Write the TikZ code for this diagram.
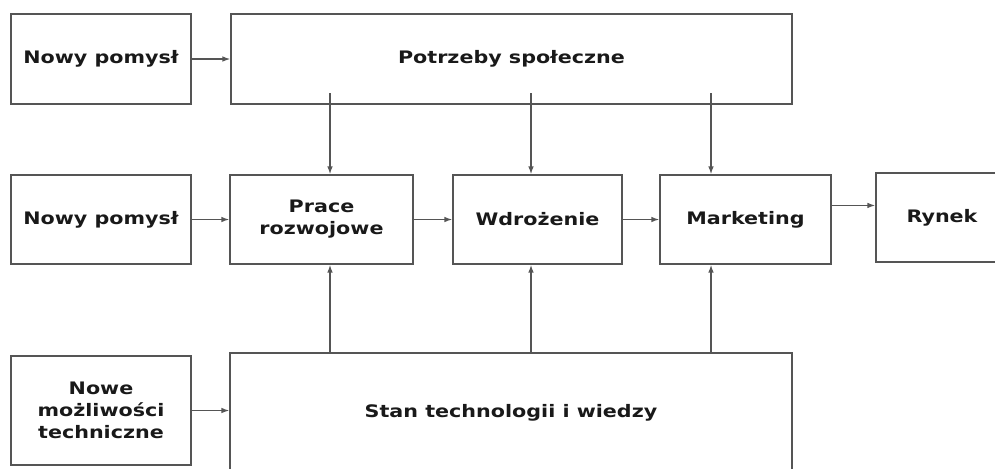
\documentclass[tikz,border=0pt]{standalone}
\usepackage{fontspec}
\setmainfont{DejaVu Sans}[FakeStretch=1.2]
\usetikzlibrary{arrows.meta}
\definecolor{linegray}{HTML}{555555}

\begin{document}
\begin{tikzpicture}[x=0.02cm, y=-0.02cm,
  box/.style={draw=linegray, line width=0.8pt, inner sep=0pt, align=center,
    font=\bfseries\fontsize{9.8}{12.5}\selectfont, text=black!90},
  arr/.style={draw=linegray, line width=0.8pt, -{Latex[length=4.5pt,width=3.2pt]}}]

\useasboundingbox (0,0) rectangle (995,468);
\clip (0,0) rectangle (995,468);

\node[box, minimum width=3.6cm, minimum height=1.8cm] (pomysla) at (101,59) {Nowy pomysł};
\node[box, minimum width=11.22cm, minimum height=1.8cm] (potrzeby) at (511.5,59) {Potrzeby społeczne};

\node[box, minimum width=3.6cm, minimum height=1.78cm] (pomyslb) at (101,219.5) {Nowy pomysł};
\node[box, minimum width=3.66cm, minimum height=1.78cm] (prace) at (321.5,219.5) {Prace\\rozwojowe};
\node[box, minimum width=3.38cm, minimum height=1.78cm] (wdrozenie) at (537.5,219.5) {Wdrożenie};
\node[box, minimum width=3.42cm, minimum height=1.78cm] (marketing) at (745.5,219.5) {Marketing};
\node[box, minimum width=2.64cm, minimum height=1.78cm] (rynek) at (942,217.5) {Rynek};

\node[box, minimum width=3.6cm, minimum height=2.18cm] (nowe) at (101,410.5) {Nowe\\możliwości\\techniczne};
\node[box, minimum width=11.24cm, minimum height=2.4cm] (stan) at (511,413) {Stan technologii i wiedzy};

\coordinate (ka) at (330,93);
\coordinate (kb) at (531,93);
\coordinate (kc) at (711,93);

\draw[arr] (pomysla.east) -- (potrzeby.west);
\draw[arr] (pomyslb.east) -- (prace.west);
\draw[arr] (prace.east) -- (wdrozenie.west);
\draw[arr] (wdrozenie.east) -- (marketing.west);
\draw[arr] ([yshift=8pt]marketing.east) -- ([yshift=8pt]marketing.east -| rynek.west);
\draw[arr] (nowe.east) -- (nowe.east -| stan.west);

\draw[arr] (ka) -- (ka |- prace.north);
\draw[arr] (kb) -- (kb |- wdrozenie.north);
\draw[arr] (kc) -- (kc |- marketing.north);

\draw[arr] (stan.north -| ka) -- (ka |- prace.south);
\draw[arr] (stan.north -| kb) -- (kb |- wdrozenie.south);
\draw[arr] (stan.north -| kc) -- (kc |- marketing.south);

\end{tikzpicture}
\end{document}
